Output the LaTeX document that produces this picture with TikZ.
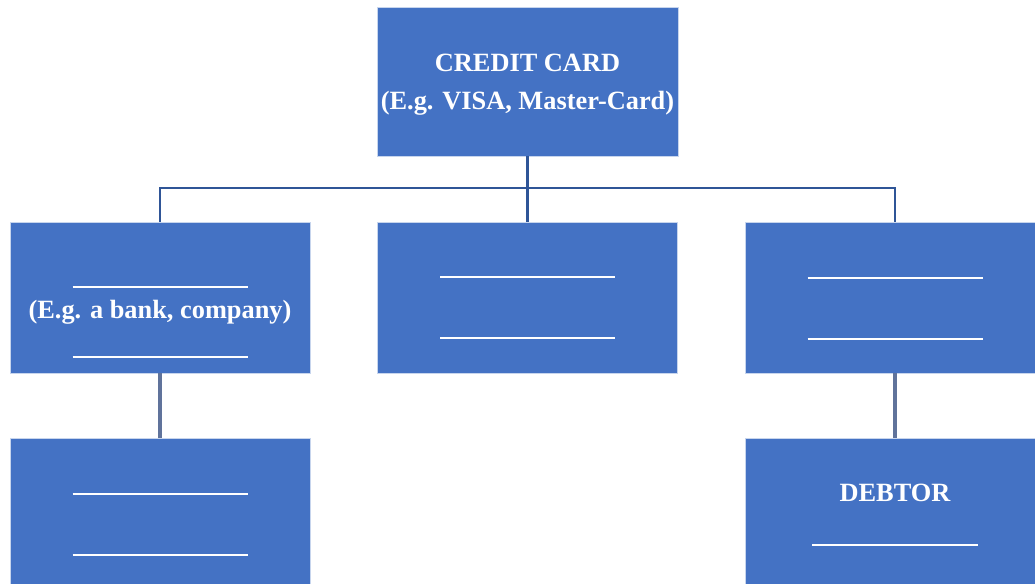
\documentclass[tikz,border=0pt]{standalone}
\usepackage{fontspec}
\setmainfont{Liberation Serif}
\usepackage{xcolor}
\usepackage{tikz}
\usetikzlibrary{positioning, calc}

\definecolor{boxblue}{HTML}{4472C4}
\definecolor{linkblue}{HTML}{2F5597}
\definecolor{linkgray}{HTML}{60739B}

\tikzset{
  cardbox/.style={fill=boxblue, draw=white!70!boxblue, line width=0.4pt,
    minimum width=6cm, minimum height=3.02cm, inner sep=0pt},
  boxtext/.style={text=white, font=\fontsize{15}{21.6}\selectfont\bfseries,
    inner sep=0pt, align=center},
  blank/.style={draw=white, line width=0.6pt},
  link/.style={draw=linkblue, line width=1.3pt},
  sublink/.style={draw=linkgray, line width=1.8pt}
}

\begin{document}
\begin{tikzpicture}[x=0.02cm, y=-0.02cm]
    \useasboundingbox (0,0) rectangle (1035,584);
    \clip (0,0) rectangle (1035,584);

    % Top box
    \node[cardbox, minimum width=6.02cm, minimum height=2.98cm] (card) at (527.5,81.5) {};

    % Second row
    \node[cardbox] (leftbox) at (160,297.5) {};
    \node[cardbox] (midbox) at (527.5,297.5) {};
    \node[cardbox] (rightbox) at (895,297.5) {};

    % Third row
    \node[cardbox] (lowleft) at (160,513.5) {};
    \node[cardbox] (debtor) at (895,513.5) {};

    % Labels inside the boxes
    \node[boxtext] (cardlabel) at ($(card.center)+(0,3)$) {CREDIT CARD\\(E.g. VISA, Master-Card)};
    \node[boxtext] (banklabel) at ($(leftbox.center)+(0,15)$) {(E.g. a bank, company)};
    \node[boxtext] (debtorlabel) at ($(debtor.center)+(0,-20.5)$) {DEBTOR};

    % Blank lines to fill in
    \foreach \n/\dy in {leftbox/-10.5, leftbox/59.5, midbox/-20.5, midbox/40.5,
                        rightbox/-19.5, rightbox/41.5, lowleft/-19.5, lowleft/41.5} {
      \draw[blank] ($(\n.center)+(-87.5,\dy)$) -- ++(175,0);
    }
    \draw[blank] ($(debtor.center)+(-83,31.5)$) -- ++(166,0);

    % Connectors
    \coordinate (split) at (527.5,188);
    \draw[link] (card.south) -- (midbox.north);
    \draw[link] (leftbox.north) |- (split) -| (rightbox.north);
    \draw[sublink] (leftbox.south) -- (lowleft.north);
    \draw[sublink] (rightbox.south) -- (debtor.north);
  \end{tikzpicture}
\end{document}
